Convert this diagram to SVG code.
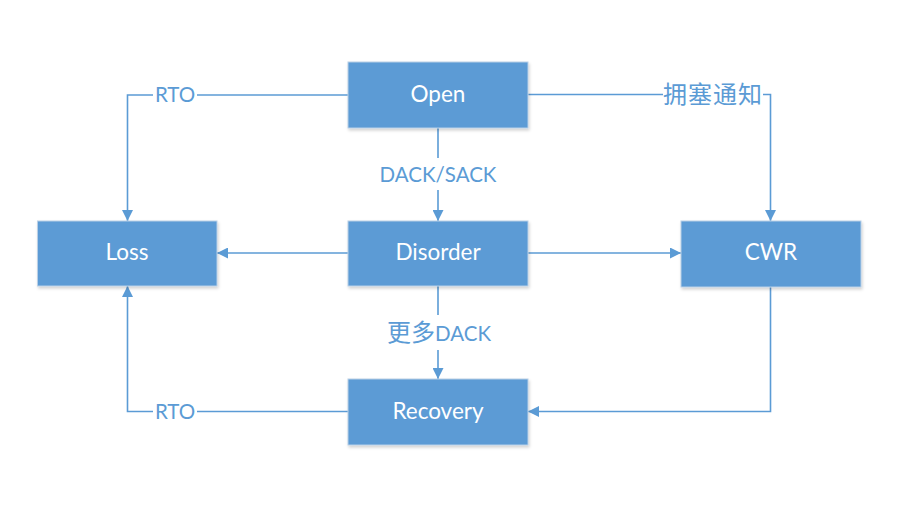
<svg xmlns="http://www.w3.org/2000/svg" width="904" height="511" viewBox="0 0 904 511">
<style>
.box{fill:#5b9bd5;stroke:#b9cfe6;stroke-width:1}
.bt{fill:#ffffff;font-family:Lato,"Noto Sans CJK SC",sans-serif;font-size:22.5px;text-anchor:middle}
.lbl{fill:#5b9bd5;font-family:Lato,"Noto Sans CJK SC",sans-serif;font-size:20.5px;text-anchor:middle}
.cjk{font-family:"Noto Sans CJK SC",sans-serif;font-size:24px}
.ln{fill:none;stroke:#5b9bd5;stroke-width:1.6}
</style>
<defs>
<marker id="ah" markerUnits="userSpaceOnUse" markerWidth="11" markerHeight="11" viewBox="0 0 11 11" refX="11" refY="5.5" orient="auto">
<path d="M0,0 L11,5.5 L0,11 z" fill="#5b9bd5"/>
</marker>
<filter id="sh" x="-10%" y="-10%" width="125%" height="130%">
<feDropShadow dx="1" dy="2" stdDeviation="1.5" flood-color="#000" flood-opacity="0.18"/>
</filter>
</defs>
<rect width="904" height="511" fill="#ffffff"/>
<g id="connectors">
<path class="ln" d="M348 95 H197"/>
<path class="ln" d="M153 95 H127.5 V221" marker-end="url(#ah)"/>
<path class="ln" d="M528 94.5 H663"/>
<path class="ln" d="M763 94.5 H770.5 V221" marker-end="url(#ah)"/>
<path class="ln" d="M438 128 V158"/>
<path class="ln" d="M438 190 V221" marker-end="url(#ah)"/>
<path class="ln" d="M348 253 H217" marker-end="url(#ah)"/>
<path class="ln" d="M528 253 H681" marker-end="url(#ah)"/>
<path class="ln" d="M438 286 V315"/>
<path class="ln" d="M438 350 V379" marker-end="url(#ah)"/>
<path class="ln" d="M770.5 287 V411.5 H528" marker-end="url(#ah)"/>
<path class="ln" d="M348 411.5 H197"/>
<path class="ln" d="M153 411.5 H127.5 V286" marker-end="url(#ah)"/>
<text class="lbl" x="175" y="102">RTO</text>
<text class="lbl cjk" x="713" y="103" letter-spacing="1">拥塞通知</text>
<text class="lbl" x="438" y="182">DACK/SACK</text>
<text class="lbl" x="439" y="341"><tspan class="cjk">更多</tspan>DACK</text>
<text class="lbl" x="175" y="418.5">RTO</text>
</g>
<g id="open"><rect class="box" filter="url(#sh)" x="348" y="62" width="180" height="66"/><text class="bt" x="438" y="102">Open</text></g>
<g id="loss"><rect class="box" filter="url(#sh)" x="37.5" y="221" width="179.5" height="65"/><text class="bt" x="127" y="260">Loss</text></g>
<g id="disorder"><rect class="box" filter="url(#sh)" x="348" y="221" width="180" height="65"/><text class="bt" x="438" y="260">Disorder</text></g>
<g id="cwr"><rect class="box" filter="url(#sh)" x="681" y="221" width="180" height="66"/><text class="bt" x="771" y="260">CWR</text></g>
<g id="recovery"><rect class="box" filter="url(#sh)" x="348" y="379" width="180" height="66"/><text class="bt" x="438" y="418.5">Recovery</text></g>
</svg>
